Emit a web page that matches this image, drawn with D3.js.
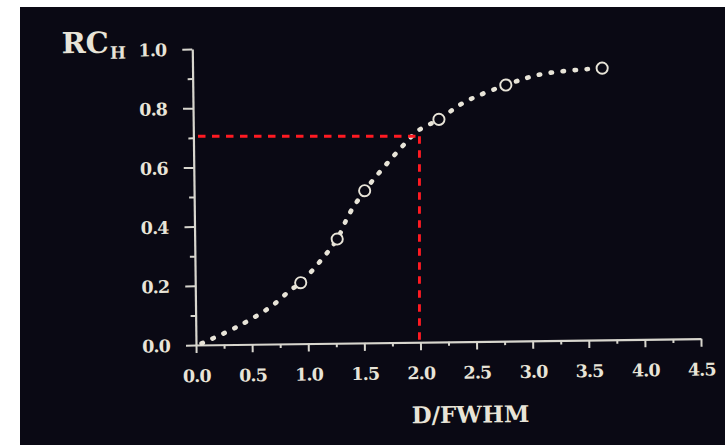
<!DOCTYPE html>
<html>
<head>
<meta charset="utf-8">
<script src="https://cdn.jsdelivr.net/npm/d3@7"></script>
<style>
  html, body { margin: 0; padding: 0; background: #ffffff; }
  svg { display: block; }
  .tick text { font-family: "DejaVu Serif", serif; font-weight: bold; }
</style>
</head>
<body>
<svg id="chart" width="725" height="445"></svg>
<script>
// Measured recovery coefficient (open circles)
const measuredX = [0.94, 1.27, 1.52, 2.19, 2.79, 3.65];
const measuredY = [0.206, 0.352, 0.514, 0.752, 0.865, 0.918];

// Hand-fitted trend curve (dotted)
const curveX = [0.05, 0.37, 0.67, 0.85, 0.94, 1.15, 1.27, 1.38, 1.52, 1.66, 1.90, 2.0, 2.19, 2.42, 2.79, 3.12, 3.65];
const curveY = [0.005, 0.06, 0.126, 0.182, 0.206, 0.293, 0.352, 0.436, 0.514, 0.578, 0.678, 0.714, 0.752, 0.809, 0.865, 0.901, 0.918];

// Axis ticks
const xMajorTicks = [0, 0.5, 1.0, 1.5, 2.0, 2.5, 3.0, 3.5, 4.0, 4.5];
const xMinorTicks = [0.25, 0.75, 1.25, 1.75, 2.25, 2.75, 3.25, 3.75, 4.25];
const yMajorTicks = [0, 0.2, 0.4, 0.6, 0.8, 1.0];
const yMinorTicks = [0.1, 0.3, 0.5, 0.7, 0.9];

// Reference reading: D/FWHM = 2.0 gives RC_H ~ 0.705
const refX = 2.0;
const refY = 0.705;

const ink = "#e8e4d8";
const axisInk = "#d8d6ce";
const bg = "#0a0914";

const svg = d3.select("#chart");

svg.append("rect")
  .attr("x", 20).attr("y", 7)
  .attr("width", 705).attr("height", 438)
  .attr("fill", bg);

const x = d3.scaleLinear().domain([0, 4.5]).range([196, 701]);
const y = d3.scaleLinear().domain([0, 1]).range([345, 49]);

// the printed figure sits at a slight counter-clockwise tilt
const plot = svg.append("g")
  .attr("transform", `rotate(-0.72, ${x(0)}, ${y(0)})`);

// x axis
const xAxis = plot.append("g")
  .attr("transform", `translate(0,${y(0)})`)
  .call(d3.axisBottom(x).tickValues(xMajorTicks).tickSize(8).tickSizeOuter(0)
    .tickFormat(d3.format(".1f")));
plot.append("g")
  .attr("transform", `translate(0,${y(0)})`)
  .call(d3.axisBottom(x).tickValues(xMinorTicks).tickSize(4).tickSizeOuter(0).tickFormat(""))
  .call(g => g.select(".domain").remove());

// y axis
const yAxis = plot.append("g")
  .attr("transform", `translate(${x(0)},0)`)
  .call(d3.axisLeft(y).tickValues(yMajorTicks).tickSize(10).tickSizeOuter(0)
    .tickFormat(d3.format(".1f")));
plot.append("g")
  .attr("transform", `translate(${x(0)},0)`)
  .call(d3.axisLeft(y).tickValues(yMinorTicks).tickSize(5).tickSizeOuter(0).tickFormat(""))
  .call(g => g.select(".domain").remove());

plot.selectAll(".domain").attr("stroke", axisInk).attr("stroke-width", 2.2);
plot.selectAll(".tick line").attr("stroke", axisInk).attr("stroke-width", 2);

xAxis.selectAll(".tick text")
  .attr("y", 37).attr("dy", 0)
  .attr("fill", ink)
  .style("font-size", "17.5px")
  .style("letter-spacing", "-0.9px");

yAxis.selectAll(".tick text")
  .attr("x", -26).attr("dy", "0.36em")
  .attr("fill", ink)
  .style("font-size", "17.5px")
  .style("letter-spacing", "-0.9px");

// dotted trend curve
const line = d3.line()
  .x(d => x(d[0]))
  .y(d => y(d[1]))
  .curve(d3.curveCatmullRom.alpha(0.5));

plot.append("path")
  .datum(curveX.map((v, i) => [v, curveY[i]]))
  .attr("d", line)
  .attr("fill", "none")
  .attr("stroke", ink)
  .attr("stroke-width", 4.6)
  .attr("stroke-linecap", "round")
  .attr("stroke-dasharray", "1.4 10.6");

// measured points
plot.selectAll("circle.pt")
  .data(measuredX.map((v, i) => [v, measuredY[i]]))
  .join("circle")
  .attr("class", "pt")
  .attr("cx", d => x(d[0]))
  .attr("cy", d => y(d[1]))
  .attr("r", 5.6)
  .attr("fill", bg)
  .attr("stroke", ink)
  .attr("stroke-width", 1.9);

// y title: RC with subscript H
const yTitle = plot.append("text")
  .attr("x", x(0) - 130.6)
  .attr("y", y(1) + 2.6)
  .attr("fill", ink)
  .style("font-family", "'DejaVu Serif', serif")
  .style("font-weight", "bold");
yTitle.append("tspan").style("font-size", "29px").text("RC");
yTitle.append("tspan").attr("dx", 1).attr("dy", 6).style("font-size", "17px").text("H");

// x title
plot.append("text")
  .attr("x", 410.7)
  .attr("y", y(0) + 81)
  .attr("fill", ink)
  .style("font-family", "'DejaVu Serif', serif")
  .style("font-weight", "bold")
  .style("font-size", "23px")
  .text("D/FWHM");

// red reference guides
const guides = svg.append("g")
  .attr("stroke", "#ff1a22")
  .attr("stroke-width", 2.9)
  .attr("stroke-dasharray", "7.5 6.5")
  .attr("fill", "none");
guides.append("line")
  .attr("x1", x(0) + 2).attr("y1", y(refY))
  .attr("x2", x(refX)).attr("y2", y(refY));
guides.append("line")
  .attr("x1", x(refX) - 1).attr("y1", y(refY))
  .attr("x2", x(refX) - 1).attr("y2", y(0) - 3);
</script>
</body>
</html>
